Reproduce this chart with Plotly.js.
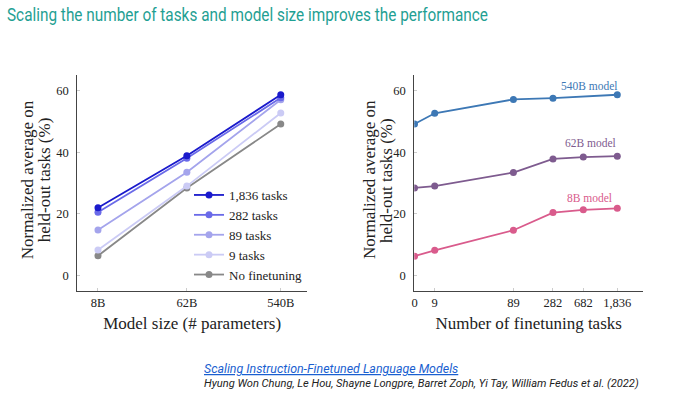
<!DOCTYPE html>
<html>
<head>
<meta charset="utf-8">
<script src="https://cdn.plot.ly/plotly-3.0.1.min.js"></script>
<style>
  html, body { margin: 0; padding: 0; background: #fff; }
  #chart { width: 700px; height: 393px; }
</style>
</head>
<body>
<div id="chart"></div>
<script>
// ---- Data ----
const modelSizes = [8, 62, 540];
const modelSizeLabels = ['8B', '62B', '540B'];

const seriesNames = ['1,836 tasks', '282 tasks', '89 tasks', '9 tasks', 'No finetuning'];
const tasks1836 = [22.0, 38.8, 58.6];
const tasks282 = [20.5, 38.0, 57.6];
const tasks89 = [14.8, 33.5, 57.0];
const tasks9 = [8.3, 29.0, 52.7];
const noFinetuning = [6.4, 28.4, 49.1];

const taskCounts = [0, 9, 89, 282, 682, 1836];
const taskLabels = ['0', '9', '89', '282', '682', '1,836'];
const taskCounts540 = [0, 9, 89, 282, 1836];
const model540B = [49.1, 52.6, 57.1, 57.5, 58.6];
const model62B = [28.4, 29.0, 33.4, 37.8, 38.4, 38.7];
const model8B = [6.3, 8.2, 14.7, 20.4, 21.3, 21.8];
const modelNames = ['540B model', '62B model', '8B model'];

// ---- Styling ----
const SERIF = 'Liberation Serif, Times New Roman, serif';
const leftColors = ['#1a1acc', '#6a6ae8', '#a4a4ec', '#cbcbf5', '#888888'];
const rightColors = ['#3d78b5', '#7e5b8f', '#d95b8c'];
const ZERO_POS = 5; // where "0 tasks" is placed on the log axis

const toPos = arr => arr.map(t => (t === 0 ? ZERO_POS : t));

const leftSeries = [tasks1836, tasks282, tasks89, tasks9, noFinetuning];
const traces = [];
leftSeries.forEach((vals, i) => {
  traces.push({
    x: modelSizes, y: vals, name: seriesNames[i],
    type: 'scatter', mode: 'lines+markers',
    xaxis: 'x', yaxis: 'y',
    line: { color: leftColors[i], width: 1.8 },
    marker: { color: leftColors[i], size: 7 },
    showlegend: true
  });
});
// draw the top series last so it stays on top
traces.reverse();

const rightSeries = [
  [taskCounts540, model540B],
  [taskCounts, model62B],
  [taskCounts, model8B]
];
rightSeries.forEach(([xs, ys], i) => {
  traces.push({
    x: toPos(xs), y: ys, name: modelNames[i],
    type: 'scatter', mode: 'lines+markers',
    xaxis: 'x2', yaxis: 'y2',
    line: { color: rightColors[i], width: 1.8 },
    marker: { color: rightColors[i], size: 7 },
    showlegend: false
  });
});

const axisCommon = {
  showline: true, linecolor: '#444', linewidth: 1,
  showgrid: false, zeroline: false,
  ticks: 'inside', ticklen: 3, tickcolor: '#cccccc', tickwidth: 1,
  tickfont: { family: SERIF, size: 12.5, color: '#222' },
  fixedrange: true
};

const yTitleFont = { family: SERIF, size: 17, color: '#222' };

const layout = {
  width: 700, height: 393,
  margin: { l: 0, r: 0, t: 0, b: 0 },
  paper_bgcolor: '#fff', plot_bgcolor: '#fff',
  title: {
    text: 'Scaling the number of tasks and model size improves the performance',
    font: { family: 'Roboto, sans-serif', size: 19, color: '#1fa093' },
    x: 7 / 700, xanchor: 'left', xref: 'container',
    y: 1 - 14 / 393, yanchor: 'middle', yref: 'container'
  },
  xaxis: Object.assign({}, axisCommon, {
    domain: [77.3 / 700, 307 / 700], anchor: 'y',
    type: 'log', range: [0.696, 2.995],
    tickvals: modelSizes, ticktext: modelSizeLabels,
    title: { text: 'Model size (# parameters)', font: { family: SERIF, size: 17, color: '#222' }, standoff: 8 }
  }),
  yaxis: Object.assign({}, axisCommon, {
    domain: [1 - 291 / 393, 1 - 75 / 393], anchor: 'x',
    range: [-5, 65], tickvals: [0, 20, 40, 60], ticklabelstandoff: 5
  }),
  xaxis2: Object.assign({}, axisCommon, {
    domain: [414.3 / 700, 643 / 700], anchor: 'y2',
    type: 'log', range: [0.696, 3.589],
    tickvals: toPos(taskCounts), ticktext: taskLabels,
    title: { text: 'Number of finetuning tasks', font: { family: SERIF, size: 17, color: '#222' }, standoff: 8 }
  }),
  yaxis2: Object.assign({}, axisCommon, {
    domain: [1 - 291 / 393, 1 - 75 / 393], anchor: 'x2',
    range: [-5, 65], tickvals: [0, 20, 40, 60], ticklabelstandoff: 5
  }),
  legend: {
    x: 189 / 700, xanchor: 'left', y: 1 - 180 / 393, yanchor: 'top',
    font: { family: SERIF, size: 13, color: '#222' },
    bgcolor: 'rgba(0,0,0,0)', traceorder: 'reversed', itemwidth: 30,
    tracegroupgap: 0
  },
  showlegend: true,
  annotations: [
    { text: 'Normalized average on', xref: 'paper', yref: 'paper', x: 27.3 / 700, y: 1 - 180 / 393,
      xanchor: 'center', yanchor: 'middle', textangle: -90, showarrow: false, font: yTitleFont },
    { text: 'held-out tasks (%)', xref: 'paper', yref: 'paper', x: 44.3 / 700, y: 1 - 180 / 393,
      xanchor: 'center', yanchor: 'middle', textangle: -90, showarrow: false, font: yTitleFont },
    { text: 'Normalized average on', xref: 'paper', yref: 'paper', x: 369 / 700, y: 1 - 180 / 393,
      xanchor: 'center', yanchor: 'middle', textangle: -90, showarrow: false, font: yTitleFont },
    { text: 'held-out tasks (%)', xref: 'paper', yref: 'paper', x: 386 / 700, y: 1 - 180 / 393,
      xanchor: 'center', yanchor: 'middle', textangle: -90, showarrow: false, font: yTitleFont },
    { text: modelNames[0], xref: 'paper', yref: 'paper', x: 589 / 700, y: 1 - 85.7 / 393,
      xanchor: 'center', yanchor: 'middle', showarrow: false,
      font: { family: SERIF, size: 11.5, color: rightColors[0] } },
    { text: modelNames[1], xref: 'paper', yref: 'paper', x: 590 / 700, y: 1 - 142.7 / 393,
      xanchor: 'center', yanchor: 'middle', showarrow: false,
      font: { family: SERIF, size: 11.5, color: rightColors[1] } },
    { text: modelNames[2], xref: 'paper', yref: 'paper', x: 589 / 700, y: 1 - 198 / 393,
      xanchor: 'center', yanchor: 'middle', showarrow: false,
      font: { family: SERIF, size: 11.5, color: rightColors[2] } },
    { text: '<u>Scaling Instruction-Finetuned Language Models</u>', xref: 'paper', yref: 'paper',
      x: 201.7 / 700, y: 1 - 368 / 393, xanchor: 'left', yanchor: 'middle', showarrow: false,
      font: { family: 'Roboto, Arial, sans-serif', size: 12.4, color: '#1a5fd0', style: 'italic' } },
    { text: 'Hyung Won Chung, Le Hou, Shayne Longpre, Barret Zoph, Yi Tay, William Fedus et al. (2022)',
      xref: 'paper', yref: 'paper',
      x: 201.7 / 700, y: 1 - 383 / 393, xanchor: 'left', yanchor: 'middle', showarrow: false,
      font: { family: 'Roboto, Arial, sans-serif', size: 11.1, color: '#222', style: 'italic' } }
  ]
};

Plotly.newPlot('chart', traces, layout, { displayModeBar: false, staticPlot: true }).then(gd => {
  // The reference title uses a condensed face: compress the real text to its measured width.
  const t = gd.querySelector('.gtitle');
  if (t) {
    t.setAttribute('textLength', '481');
    t.setAttribute('lengthAdjust', 'spacingAndGlyphs');
  }
});
</script>
</body>
</html>
